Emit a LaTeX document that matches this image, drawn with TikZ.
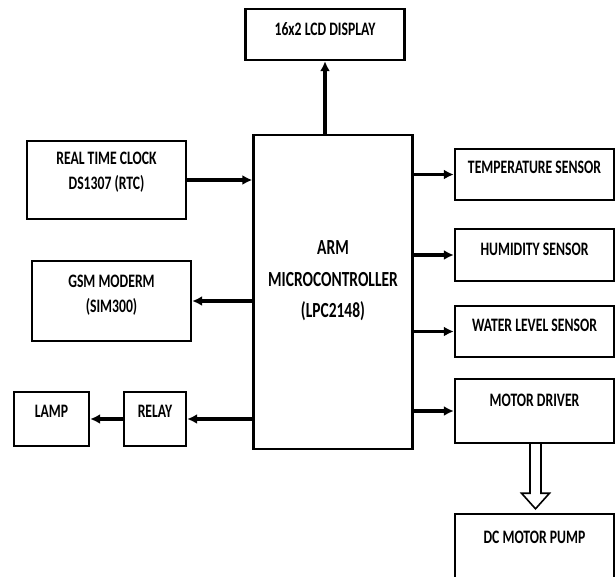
\documentclass[tikz,border=0pt]{standalone}
\usepackage{fontspec}
\setmainfont{Carlito}[FakeStretch=0.72]
\usetikzlibrary{calc, arrows.meta}

\tikzset{
    block/.style={draw, line width=2.4pt, minimum width=159pt, minimum height=51pt,
        inner sep=0pt, align=center, font=\bfseries\fontsize{19}{25}\selectfont},
    link/.style={line width=3.2pt, -{Latex[length=10pt, width=10pt]}},
    hollow/.style={line width=1.6pt, line join=miter},
}

\begin{document}
\begin{tikzpicture}[x=1pt, y=-1pt]
    \useasboundingbox (0,0) rectangle (616,576);

    % 1. Controller and display
    \node[block, minimum height=314pt, text depth=25pt,
        font=\bfseries\fontsize{21.5}{31.5}\selectfont] (arm) at (333,292) {ARM\\MICROCONTROLLER\\(LPC2148)};
    \node[block, text depth=11pt] (lcd) at (325,34.5) {16x2 LCD DISPLAY};

    % 2. Left side blocks
    \node[block, minimum height=78pt, text depth=19pt] (rtc) at (106.5,180) {REAL TIME CLOCK\\DS1307 (RTC)};
    \node[block, minimum height=80pt, text depth=14pt] (gsm) at (111.5,301) {GSM MODERM\\(SIM300)};
    \node[block, minimum width=62pt, minimum height=54pt, text depth=16pt] (relay) at (155,419) {RELAY};
    \node[block, minimum width=75pt, minimum height=54pt, text depth=16pt] (lamp) at (51.5,419) {LAMP};

    % 3. Right side blocks
    \node[block, text depth=15pt] (temp) at (534.5,174.5) {TEMPERATURE SENSOR};
    \node[block, minimum height=52pt, text depth=12pt] (humid) at (534.5,255) {HUMIDITY SENSOR};
    \node[block, text depth=13pt] (water) at (534.5,331.5) {WATER LEVEL SENSOR};
    \node[block, minimum height=64pt, text depth=22pt] (motor) at (534.5,411) {MOTOR DRIVER};
    \node[block, minimum height=70pt, text depth=24pt] (pump) at (534.5,549) {DC MOTOR PUMP};

    % 4. Connections
    \draw[link] (lcd.south |- arm.north) -- (lcd.south);
    \draw[link] (rtc.east) -- (arm.west |- rtc.east);
    \draw[link] (arm.west |- gsm.east) -- (gsm.east);
    \draw[link] (arm.west |- relay.east) -- (relay.east);
    \draw[link] (relay.west) -- (lamp.east);
    \foreach \s in {temp, humid, water, motor} {
        \draw[link] (arm.east |- \s.west) -- (\s.west);
    }

    % 5. Hollow arrow to the pump
    \coordinate (shaft) at ($(motor.south)+(1,0)$);
    \draw[hollow] ($(shaft)+(-5.5,0)$) -- ($(shaft)+(-5.5,49)$) -- ($(shaft)+(-14,49)$)
        -- ($(shaft |- pump.north)+(0,-4)$) -- ($(shaft)+(14,49)$)
        -- ($(shaft)+(5.5,49)$) -- ($(shaft)+(5.5,0)$);

\end{tikzpicture}
\end{document}
